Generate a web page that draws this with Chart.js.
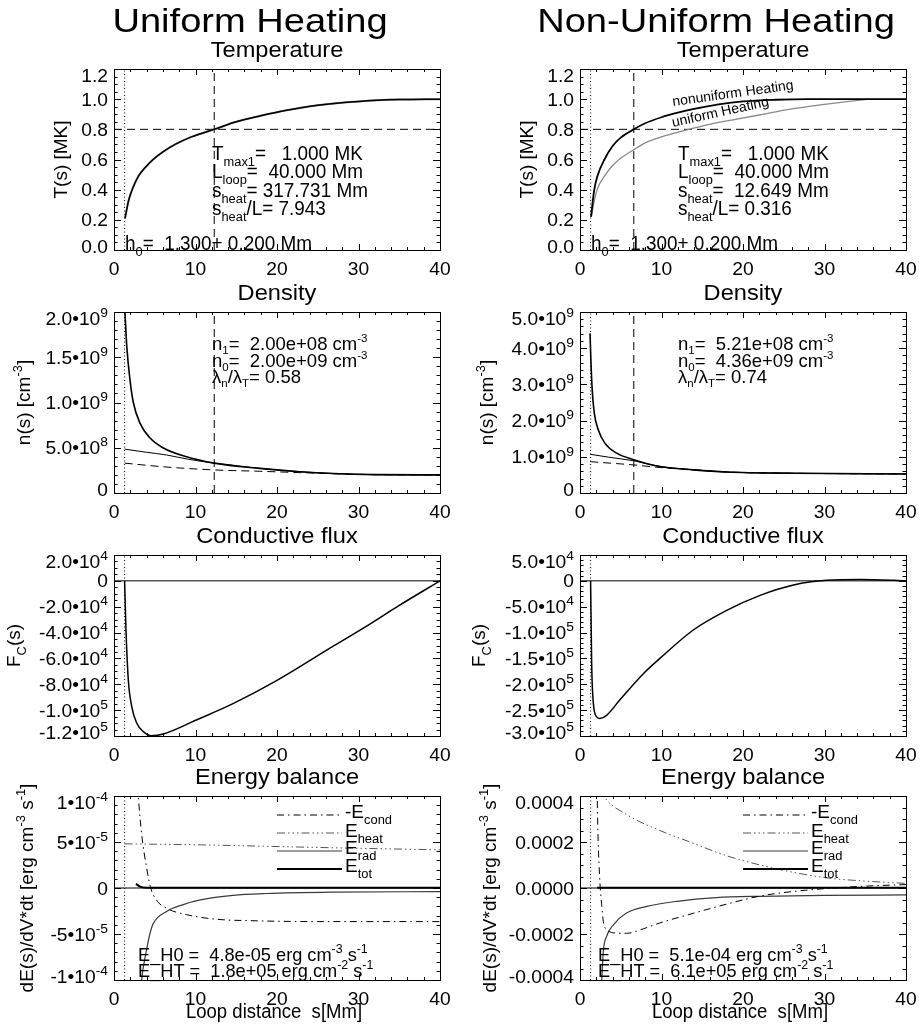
<!DOCTYPE html>
<html>
<head>
<meta charset="utf-8">
<script src="https://cdn.jsdelivr.net/npm/chart.js@4.4.1/dist/chart.umd.min.js"></script>
<style>
  body { margin: 0; background: #fff; }
  #wrap { position: relative; width: 919px; height: 1031px; }
  #wrap canvas { position: absolute; left: 0; top: 0; }
</style>
</head>
<body>
<div id="wrap"></div>
<script>
// ---- x axis (loop distance s in Mm) ----
const sRange = [0, 40];
const sTicks = [0, 10, 20, 30, 40];
const sTickLabels = ['0', '10', '20', '30', '40'];
const h0 = 1.3;           // dotted footpoint line
const sMarkUni = 12.3;    // dashed marker, uniform heating
const sMarkNon = 6.6;     // dashed marker, non-uniform heating
const tLevel = 0.8;       // dashed horizontal level in temperature panels

// ---- temperature [s, T (MK)] ----
const tempUniform = [[1.35,0.21],[1.8,0.33],[2.3,0.41],[3.0,0.49],[3.8,0.545],[4.8,0.60],[6.0,0.65],[7.5,0.70],[9.5,0.75],[12.3,0.80],[15,0.85],[18,0.89],[21,0.925],[25,0.96],[30,0.985],[35,0.997],[40,1.0]];
const tempNonuni = [[1.35,0.22],[1.75,0.40],[2.2,0.50],[3.0,0.60],[4.0,0.69],[5.0,0.745],[6.6,0.80],[8,0.84],[10,0.88],[12,0.91],[14,0.935],[17,0.965],[20,0.985],[24,0.996],[28,1.0],[40,1.0]];
const tempUniRef = [[1.4,0.22],[1.7,0.31],[2.1,0.40],[3.0,0.49],[4.0,0.56],[4.8,0.60],[6.6,0.665],[8,0.71],[10,0.75],[13,0.795],[16,0.835],[19,0.865],[22,0.895],[26,0.935],[30,0.965],[33,0.985],[35.5,1.0]];
const tempRange = [0, 1.2];
const tempTicks = [0, 0.2, 0.4, 0.6, 0.8, 1.0, 1.2];
const tempTickLabels = ['0.0', '0.2', '0.4', '0.6', '0.8', '1.0', '1.2'];

// ---- density [s, n (cm^-3)] ----
const densTotL = [[1.3,2.05e9],[1.35,1.98e9],[1.56,1.63e9],[1.96,1.25e9],[2.37,1.0e9],[3.2,0.77e9],[4.4,0.61e9],[6.0,0.5e9],[8.9,0.40e9],[12.3,0.33e9],[17.9,0.272e9],[22.8,0.235e9],[26.9,0.215e9],[32,0.203e9],[40,0.2e9]];
const densThinL = [[1.3,0.485e9],[4,0.45e9],[6.45,0.42e9],[9,0.375e9],[12.3,0.33e9],[17.9,0.272e9],[22.8,0.235e9],[26.9,0.215e9],[32,0.203e9],[40,0.2e9]];
const densDashL = [[1.3,0.33e9],[6,0.29e9],[12.3,0.255e9],[17.9,0.24e9],[22.8,0.225e9],[26.9,0.213e9],[32,0.203e9],[40,0.2e9]];
const densTotR = [[1.23,4.41e9],[1.35,3.58e9],[1.5,2.85e9],[1.76,2.2e9],[2.25,1.74e9],[3.07,1.37e9],[4.5,1.1e9],[6.6,0.92e9],[9.8,0.73e9],[13.9,0.64e9],[18,0.58e9],[26.2,0.545e9],[40,0.525e9]];
const densThinR = [[1.25,1.07e9],[3.5,0.99e9],[6.6,0.89e9],[9.8,0.735e9],[13.9,0.64e9],[18,0.58e9],[26.2,0.545e9],[40,0.525e9]];
const densDashR = [[1.25,0.865e9],[4,0.82e9],[6.6,0.775e9],[10,0.70e9],[13.9,0.645e9],[18,0.58e9],[26.2,0.545e9],[40,0.525e9]];
const densRangeL = [0, 2e9];
const densRangeR = [0, 5e9];
const densTicksL = [0, 5e8, 1e9, 1.5e9, 2e9];
const densTickLabelsL = ['0', '5.0•10^{8}', '1.0•10^{9}', '1.5•10^{9}', '2.0•10^{9}'];
const densTicksR = [0, 1e9, 2e9, 3e9, 4e9, 5e9];
const densTickLabelsR = ['0', '1.0•10^{9}', '2.0•10^{9}', '3.0•10^{9}', '4.0•10^{9}', '5.0•10^{9}'];

// ---- conductive flux [s, Fc] ----
const fluxL = [[1.3,0],[1.47,-3.8e4],[1.76,-7.7e4],[2.17,-9.7e4],[2.78,-1.1e5],[3.6,-1.166e5],[4.6,-1.198e5],[6.05,-1.184e5],[10.1,-1.076e5],[14.6,-9.5e4],[20,-7.7e4],[26.9,-5.05e4],[31,-3.5e4],[35,-1.9e4],[40,0]];
const fluxR = [[1.3,0],[1.43,-1.6e5],[1.64,-2.37e5],[2.05,-2.63e5],[2.45,-2.66e5],[3.27,-2.6e5],[4.9,-2.3e5],[7.8,-1.79e5],[9.8,-1.5e5],[13.9,-9.5e4],[18,-5.7e4],[22.1,-2.8e4],[26.2,-8e3],[30.3,1e3],[34.4,2.5e3],[38.5,1e3],[40,0]];
const fluxRangeL = [-1.2e5, 2e4];
const fluxRangeR = [-3e5, 5e4];
const fluxTicksL = [-1.2e5, -1e5, -8e4, -6e4, -4e4, -2e4, 0, 2e4];
const fluxTickLabelsL = ['-1.2•10^{5}', '-1.0•10^{5}', '-8.0•10^{4}', '-6.0•10^{4}', '-4.0•10^{4}', '-2.0•10^{4}', '0', '2.0•10^{4}'];
const fluxTicksR = [-3e5, -2.5e5, -2e5, -1.5e5, -1e5, -5e4, 0, 5e4];
const fluxTickLabelsR = ['-3.0•10^{5}', '-2.5•10^{5}', '-2.0•10^{5}', '-1.5•10^{5}', '-1.0•10^{5}', '-5.0•10^{4}', '0', '5.0•10^{4}'];

// ---- energy balance [s, dE/dVdt] ----
const eCondL = [[2.9,1.1e-4],[3.0,9.7e-5],[3.4,5.8e-5],[4.0,2.2e-5],[4.5,0],[5.2,-1.3e-5],[6.45,-2.2e-5],[8.9,-2.9e-5],[12.6,-3.4e-5],[16.7,-3.55e-5],[25,-3.65e-5],[40,-3.65e-5]];
const eHeatL = [[1.3,4.8e-5],[10.6,4.69e-5],[22.8,4.45e-5],[31,4.3e-5],[40,4.15e-5]];
const eRadL = [[3.3,-1.1e-4],[3.4,-9.9e-5],[4.0,-6.7e-5],[4.4,-5.0e-5],[4.8,-3.9e-5],[6.45,-2.55e-5],[8.5,-1.8e-5],[10.6,-1.3e-5],[14.6,-8e-6],[18.7,-6e-6],[26.9,-4.5e-6],[40,-4e-6]];
const eTotL = [[2.7,4.5e-6],[3.2,1.5e-6],[4,4e-7],[40,3e-7]];
const eCondR = [[2.08,4.5e-4],[2.2,2.4e-4],[2.45,2e-5],[2.66,-7.3e-5],[2.86,-1.45e-4],[3.27,-1.81e-4],[4.5,-1.96e-4],[5.7,-1.97e-4],[7.8,-1.77e-4],[9.8,-1.52e-4],[13.9,-1.1e-4],[18,-7e-5],[22.1,-3.5e-5],[26.2,-1.5e-5],[30.3,-2e-6],[34.4,7e-6],[40,1.5e-5]];
const eHeatR = [[2.5,4.3e-4],[2.9,4.0e-4],[5.7,3.2e-4],[9.8,2.5e-4],[13.5,2.0e-4],[18,1.4e-4],[22.1,1.0e-4],[26.2,6.8e-5],[30.3,4.4e-5],[35,3.0e-5],[40,2.0e-5]];
const eRadR = [[2.6,-4.5e-4],[2.86,-2.76e-4],[3.27,-2.1e-4],[4.1,-1.6e-4],[5.7,-1.09e-4],[8.2,-8e-5],[11.9,-5.8e-5],[16.7,-4.2e-5],[22.1,-3.6e-5],[30,-3.2e-5],[40,-3e-5]];
const eTotR = [[2.1,1e-6],[40,1e-6]];
const enerRangeL = [-1e-4, 1e-4];
const enerRangeR = [-4e-4, 4e-4];
const enerTicksL = [-1e-4, -5e-5, 0, 5e-5, 1e-4];
const enerTickLabelsL = ['-1•10^{-4}', '-5•10^{-5}', '0', '5•10^{-5}', '1•10^{-4}'];
const enerTicksR = [-4e-4, -2e-4, 0, 2e-4, 4e-4];
const enerTickLabelsR = ['-0.0004', '-0.0002', '0.0000', '0.0002', '0.0004'];

// ---- page layout ----
const W = 919, H = 1031;
const colLeft = [114, 580], colRight = [440, 906];
const rowTop = [69, 312, 555, 796], rowBottom = [250, 493, 736, 980];
const FONT = '"Liberation Sans", Arial, Helvetica, sans-serif';
const GRAY = '#8a8a8a', DGRAY = '#555', RGRAY = '#3a3a3a';
const DASH = [8, 5], DOT = [1, 2.5], DASHDOT = [7, 4, 1.5, 4], DASH3DOT = [8, 3, 1.5, 3, 1.5, 3, 1.5, 3];

function pts(arr) { return arr.map(p => ({ x: p[0], y: p[1] })); }

function curve(arr, color, width, dash) {
  return { data: pts(arr), borderColor: color, borderWidth: width, borderDash: dash || [],
    pointRadius: 0, fill: false, cubicInterpolationMode: 'monotone' };
}
function straight(arr, color, width, dash) {
  return { data: pts(arr), borderColor: color, borderWidth: width, borderDash: dash || [],
    pointRadius: 0, fill: false, tension: 0 };
}

// text with _{sub} and ^{sup}
function parseRich(str) {
  const segs = [];
  const re = /([_^])\{([^}]*)\}/g;
  let last = 0, m;
  while ((m = re.exec(str))) {
    if (m.index > last) segs.push({ t: str.slice(last, m.index), k: '' });
    segs.push({ t: m[2], k: m[1] });
    last = re.lastIndex;
  }
  if (last < str.length) segs.push({ t: str.slice(last), k: '' });
  return segs;
}

function drawRich(ctx, str, x, y, size, align, stretch, rot, small, subDrop) {
  const segs = parseRich(str);
  small = small || 0.68;
  subDrop = subDrop || 0.3;
  let w = 0;
  segs.forEach(sg => {
    ctx.font = (sg.k ? size * small : size) + 'px ' + FONT;
    sg.w = ctx.measureText(sg.t).width;
    w += sg.w;
  });
  ctx.save();
  ctx.translate(x, y);
  if (rot) ctx.rotate(rot * Math.PI / 180);
  ctx.scale(stretch || 1, 1);
  let cx = align === 'right' ? -w : align === 'center' ? -w / 2 : 0;
  ctx.textAlign = 'left';
  ctx.textBaseline = 'alphabetic';
  ctx.fillStyle = '#000';
  segs.forEach(sg => {
    ctx.font = (sg.k ? size * small : size) + 'px ' + FONT;
    const dy = sg.k === '_' ? size * subDrop : sg.k === '^' ? -size * 0.42 : 0;
    ctx.fillText(sg.t, cx, dy);
    cx += sg.w;
  });
  ctx.restore();
}

function tickLoop(min, max, step, cb) {
  const k0 = Math.ceil(min / step - 1e-6), k1 = Math.floor(max / step + 1e-6);
  for (let k = k0; k <= k1; k++) cb(k * step);
}
function isMajor(v, majors, step) {
  return majors.some(m => Math.abs(m - v) < step * 1e-3);
}

// IDL style box: inward ticks on all sides, labels, titles, annotations
function idlFrame(p) {
  return {
    id: 'idlFrame',
    afterDraw(chart) {
      const ctx = chart.ctx, a = chart.chartArea;
      const xs = chart.scales.x, ys = chart.scales.y;
      ctx.save();
      ctx.strokeStyle = '#000';
      ctx.lineWidth = 1;
      ctx.setLineDash([]);
      ctx.strokeRect(Math.round(a.left) + 0.5, Math.round(a.top) + 0.5,
        Math.round(a.right - a.left), Math.round(a.bottom - a.top));
      ctx.beginPath();
      tickLoop(xs.min, xs.max, 2, v => {
        const px = Math.round(xs.getPixelForValue(v)) + 0.5;
        const len = isMajor(v, sTicks, 2) ? 6 : 3;
        ctx.moveTo(px, a.bottom); ctx.lineTo(px, a.bottom - len);
        ctx.moveTo(px, a.top); ctx.lineTo(px, a.top + len);
      });
      tickLoop(ys.min, ys.max, p.yMinor, v => {
        const py = Math.round(ys.getPixelForValue(v)) + 0.5;
        const len = isMajor(v, p.yTicks, p.yMinor) ? 7 : 3.5;
        ctx.moveTo(a.left, py); ctx.lineTo(a.left + len, py);
        ctx.moveTo(a.right, py); ctx.lineTo(a.right - len, py);
      });
      ctx.stroke();

      // tick labels
      sTicks.forEach((v, i) => drawRich(ctx, sTickLabels[i], xs.getPixelForValue(v), a.bottom + 25, 18.5, 'center', 1.04));
      p.yTicks.forEach((v, i) => {
        let cy = ys.getPixelForValue(v);
        cy = Math.min(Math.max(cy, a.top + 6), a.bottom - 4);
        drawRich(ctx, p.yLabels[i], a.left - 6, cy + 6.5, 18.5, 'right', 1.04, 0, 0.72);
      });

      const midX = (a.left + a.right) / 2, midY = (a.top + a.bottom) / 2;
      if (p.big) drawRich(ctx, p.big, midX - 27, 32, 34, 'center', 1.12);
      drawRich(ctx, p.title, midX, a.top - 12, 22.5, 'center', 1.05);
      drawRich(ctx, p.yTitle, a.left + p.yTitleDx, midY, 19, 'center', 1, -90);
      if (p.xTitle) drawRich(ctx, p.xTitle, midX - 3, a.bottom + 38, 19.5, 'center', 0.95);

      (p.texts || []).forEach(t => drawRich(ctx, t.s, a.left + t.dx, a.top + t.dy, t.size || 19.5, 'left',
        t.st || 0.97, t.rot || 0, t.small, t.drop));

      // legend (energy panels)
      (p.legend || []).forEach(l => {
        const ds = chart.data.datasets[l.ds];
        ctx.beginPath();
        ctx.strokeStyle = ds.borderColor;
        ctx.lineWidth = ds.borderWidth;
        ctx.setLineDash(ds.borderDash || []);
        ctx.moveTo(a.left + 163, a.top + l.ly);
        ctx.lineTo(a.left + 228, a.top + l.ly);
        ctx.stroke();
        drawRich(ctx, l.label, a.left + 231, a.top + l.ty, 19, 'left', 1.0);
      });
      ctx.restore();
    }
  };
}

function vline(x, range, dash) { return straight([[x, range[0]], [x, range[1]]], '#000', 1, dash); }
function hline(y, dash, width) { return straight([[sRange[0], y], [sRange[1], y]], '#000', width || 1, dash); }

const tempTextsL = [
  { s: 'T_{max1}=   1.000 MK', dx: 98, dy: 91 },
  { s: 'L_{loop}=  40.000 Mm', dx: 98, dy: 109 },
  { s: 's_{heat}= 317.731 Mm', dx: 98, dy: 128 },
  { s: 's_{heat}/L= 7.943', dx: 98, dy: 146 },
  { s: 'h_{0}=  1.300+ 0.200 Mm', dx: 11, dy: 181 }
];
const tempTextsR = [
  { s: 'T_{max1}=   1.000 MK', dx: 98, dy: 91 },
  { s: 'L_{loop}=  40.000 Mm', dx: 98, dy: 109 },
  { s: 's_{heat}=  12.649 Mm', dx: 98, dy: 128 },
  { s: 's_{heat}/L= 0.316', dx: 98, dy: 146 },
  { s: 'h_{0}=  1.300+ 0.200 Mm', dx: 11, dy: 181 },
  { s: 'nonuniform Heating', dx: 93, dy: 37, size: 14, st: 1.0, rot: -7.9 },
  { s: 'uniform Heating', dx: 93, dy: 58, size: 14, st: 1.0, rot: -12.5 }
];
function densTexts(n1, n0, ratio) {
  return [
    { s: 'n_{1}=  ' + n1 + ' cm^{-3}', dx: 98, dy: 38, size: 18.5, st: 1.0, small: 0.62, drop: 0.22 },
    { s: 'n_{0}=  ' + n0 + ' cm^{-3}', dx: 98, dy: 54.5, size: 18.5, st: 1.0, small: 0.62, drop: 0.22 },
    { s: 'λ_{n}/λ_{T}= ' + ratio, dx: 98, dy: 70.5, size: 18.5, st: 1.0, small: 0.62, drop: 0.22 }
  ];
}
const enerLegend = [
  { label: '-E_{cond}', ds: 0, ly: 19, ty: 22 },
  { label: 'E_{heat}', ds: 1, ly: 37, ty: 41 },
  { label: 'E_{rad}', ds: 2, ly: 55, ty: 58 },
  { label: 'E_{tot}', ds: 3, ly: 73, ty: 76 }
];

const panels = [
  { col: 0, row: 0, big: 'Uniform Heating', title: 'Temperature', range: tempRange, yTicks: tempTicks, yLabels: tempTickLabels, yMinor: 0.05,
    yTitle: 'T(s) [MK]', yTitleDx: -47, texts: tempTextsL,
    datasets: [curve(tempUniform, '#000', 1.5), curve(tempUniform, GRAY, 2.0), vline(h0, tempRange, DOT), vline(sMarkUni, tempRange, DASH), hline(tLevel, DASH)] },
  { col: 1, row: 0, big: 'Non-Uniform Heating', title: 'Temperature', range: tempRange, yTicks: tempTicks, yLabels: tempTickLabels, yMinor: 0.05,
    yTitle: 'T(s) [MK]', yTitleDx: -47, texts: tempTextsR,
    datasets: [curve(tempNonuni, '#000', 1.8), curve(tempUniRef, GRAY, 1.3), vline(h0, tempRange, DOT), vline(sMarkNon, tempRange, DASH), hline(tLevel, DASH)] },
  { col: 0, row: 1, title: 'Density', range: densRangeL, yTicks: densTicksL, yLabels: densTickLabelsL, yMinor: 1e8,
    yTitle: 'n(s) [cm^{-3}]', yTitleDx: -84,
    texts: densTexts('2.00e+08', '2.00e+09', '0.58'),
    datasets: [curve(densTotL, '#000', 1.6), curve(densThinL, '#000', 1), curve(densDashL, '#000', 1, DASH), vline(h0, densRangeL, DOT), vline(sMarkUni, densRangeL, DASH)] },
  { col: 1, row: 1, title: 'Density', range: densRangeR, yTicks: densTicksR, yLabels: densTickLabelsR, yMinor: 2e8,
    yTitle: 'n(s) [cm^{-3}]', yTitleDx: -87,
    texts: densTexts('5.21e+08', '4.36e+09', '0.74'),
    datasets: [curve(densTotR, '#000', 1.6), curve(densThinR, '#000', 1), curve(densDashR, '#000', 1, DASH), vline(h0, densRangeR, DOT), vline(sMarkNon, densRangeR, DASH)] },
  { col: 0, row: 2, title: 'Conductive flux', range: fluxRangeL, yTicks: fluxTicksL, yLabels: fluxTickLabelsL, yMinor: 5e3,
    yTitle: 'F_{C}(s)', yTitleDx: -94,
    datasets: [curve(fluxL, '#000', 1.5), hline(0), vline(h0, fluxRangeL, DOT)] },
  { col: 1, row: 2, title: 'Conductive flux', range: fluxRangeR, yTicks: fluxTicksR, yLabels: fluxTickLabelsR, yMinor: 1e4,
    yTitle: 'F_{C}(s)', yTitleDx: -95,
    datasets: [curve(fluxR, '#000', 1.5), hline(0), vline(h0, fluxRangeR, DOT)] },
  { col: 0, row: 3, title: 'Energy balance', range: enerRangeL, yTicks: enerTicksL, yLabels: enerTickLabelsL, yMinor: 1e-5,
    yTitle: 'dE(s)/dV*dt [erg cm^{-3} s^{-1}]', yTitleDx: -81, xTitle: 'Loop distance  s[Mm]',
    texts: [{ s: 'E_H0 =  4.8e-05 erg cm^{-3} s^{-1}', dx: 24, dy: 165, size: 18.2, st: 1.0 }, { s: 'E_HT =  1.8e+05 erg cm^{-2} s^{-1}', dx: 24, dy: 181, size: 18.2, st: 1.0 }],
    legend: enerLegend,
    datasets: [curve(eCondL, '#000', 1, DASHDOT), curve(eHeatL, DGRAY, 1, DASH3DOT), curve(eRadL, RGRAY, 1.2), curve(eTotL, '#000', 2), hline(0), vline(h0, enerRangeL, DOT)] },
  { col: 1, row: 3, title: 'Energy balance', range: enerRangeR, yTicks: enerTicksR, yLabels: enerTickLabelsR, yMinor: 5e-5,
    yTitle: 'dE(s)/dV*dt [erg cm^{-3} s^{-1}]', yTitleDx: -84, xTitle: 'Loop distance  s[Mm]',
    texts: [{ s: 'E_H0 =  5.1e-04 erg cm^{-3} s^{-1}', dx: 18, dy: 165, size: 18.2, st: 1.0 }, { s: 'E_HT =  6.1e+05 erg cm^{-2} s^{-1}', dx: 18, dy: 181, size: 18.2, st: 1.0 }],
    legend: enerLegend,
    datasets: [curve(eCondR, '#000', 1, DASHDOT), curve(eHeatR, DGRAY, 1, DASH3DOT), curve(eRadR, RGRAY, 1.2), curve(eTotR, '#000', 2), hline(0), vline(h0, enerRangeR, DOT)] }
];

const wrap = document.getElementById('wrap');
panels.forEach(p => {
  const cv = document.createElement('canvas');
  cv.width = W; cv.height = H;
  wrap.appendChild(cv);
  new Chart(cv, {
    type: 'line',
    data: { datasets: p.datasets },
    options: {
      responsive: false,
      animation: false,
      devicePixelRatio: 1,
      events: [],
      layout: { autoPadding: false, padding: { left: colLeft[p.col], top: rowTop[p.row], right: W - colRight[p.col], bottom: H - rowBottom[p.row] } },
      plugins: { legend: { display: false }, tooltip: { enabled: false }, title: { display: false } },
      scales: {
        x: { type: 'linear', min: sRange[0], max: sRange[1], display: false },
        y: { type: 'linear', min: p.range[0], max: p.range[1], display: false }
      }
    },
    plugins: [idlFrame(p)]
  });
});
</script>
</body>
</html>
